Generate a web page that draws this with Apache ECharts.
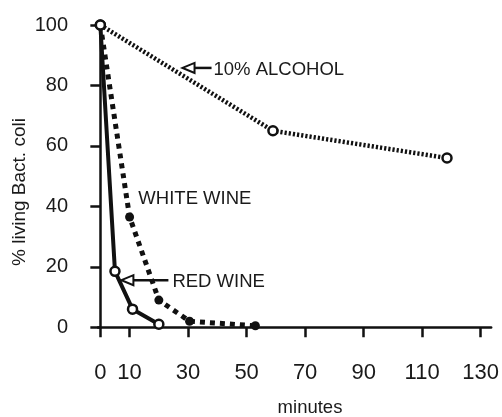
<!DOCTYPE html>
<html>
<head>
<meta charset="utf-8">
<script src="https://cdn.jsdelivr.net/npm/echarts@6/dist/echarts.min.js"></script>
<style>html,body{margin:0;padding:0;background:#fff;}#c{width:502px;height:417px;}</style>
</head>
<body>
<div id="c"></div>
<script>
// Data (minutes, % living Bact. coli)
var alcohol = [[0, 100], [59, 65], [118.5, 56]];
var whiteWine = [[0, 100], [10, 36.5], [20, 9], [30.5, 2], [53, 0.5]];
var redWine = [[0, 100], [5, 18.5], [11, 6], [20, 1]];
var xTicks = [0, 10, 30, 50, 70, 90, 110, 130];
var yTicks = [0, 20, 40, 60, 80, 100];
var labels = { alcohol: '10% ALCOHOL', white: 'WHITE WINE', red: 'RED WINE' };
var xTitle = 'minutes';
var yTitle = '% living Bact. coli';

var FONT = "'Liberation Sans', Arial, sans-serif";
var chart = echarts.init(document.getElementById('c'), null, { renderer: 'canvas' });

var openCircle = { color: '#fff', borderColor: '#111', borderWidth: 2.5 };

chart.setOption({
  animation: false,
  backgroundColor: '#fff',
  grid: { left: 98, right: 8, top: 25, bottom: 89.7 },
  xAxis: {
    type: 'value', min: -0.8, max: 133.6, offset: 13,
    splitLine: { show: false },
    axisLine: { lineStyle: { color: '#111', width: 2.5 } },
    axisTick: { customValues: xTicks, length: 10, lineStyle: { color: '#111', width: 2.5 } },
    axisLabel: { customValues: xTicks, color: '#1a1a1a', fontFamily: FONT, fontSize: 22, margin: 22 }
  },
  yAxis: {
    type: 'value', min: 0, max: 100, interval: 20, offset: 12,
    splitLine: { show: false },
    axisLine: { show: true, lineStyle: { color: '#111', width: 2.5 } },
    axisTick: { show: true, length: 10, lineStyle: { color: '#111', width: 2.5 } },
    axisLabel: { color: '#1a1a1a', fontFamily: FONT, fontSize: 20, margin: 18 }
  },
  series: [
    {
      name: labels.white, type: 'line', z: 2,
      data: whiteWine.map(function (d, i) { return i === 0 ? { value: d, symbol: 'none' } : d; }),
      symbol: 'circle', symbolSize: 9, showAllSymbol: true,
      lineStyle: { color: '#111', width: 5, type: [5, 5] },
      itemStyle: { color: '#111' }
    },
    {
      name: labels.red, type: 'line', z: 3,
      data: redWine, symbol: 'circle', symbolSize: 9,
      lineStyle: { color: '#111', width: 4 },
      itemStyle: openCircle
    },
    {
      name: labels.alcohol, type: 'line', z: 4,
      data: alcohol, symbol: 'circle', symbolSize: 9,
      lineStyle: { color: '#111', width: 4.5, type: [2.2, 2] },
      itemStyle: openCircle
    }
  ]
});

function px(pt) { return chart.convertToPixel({ gridIndex: 0 }, pt); }
function arrow(tip, tailX) {
  var x = tip[0], y = tip[1];
  return [
    { type: 'line', shape: { x1: x + 11, y1: y, x2: tailX, y2: y }, style: { stroke: '#111', lineWidth: 2.5 }, z: 10 },
    { type: 'polygon', shape: { points: [[x, y], [x + 12, y - 5], [x + 12, y + 5]] }, style: { fill: '#fff', stroke: '#111', lineWidth: 2 }, z: 11 }
  ];
}
var aTip = px([28.1, 85.8]);
var rTip = px([7.2, 15.6]);
var els = [];
els = els.concat(arrow(aTip, aTip[0] + 29));
els = els.concat(arrow(rTip, rTip[0] + 47));
var textStyle = function (t) { return { text: t, fill: '#1a1a1a', font: '18.5px ' + FONT, textVerticalAlign: 'middle' }; };
els.push({ type: 'text', x: aTip[0] + 31, y: aTip[1] + 2, style: textStyle(labels.alcohol), z: 12 });
var wPos = px([13, 42.5]);
els.push({ type: 'text', x: wPos[0], y: wPos[1] + 0.5, style: textStyle(labels.white), z: 12 });
els.push({ type: 'text', x: rTip[0] + 51, y: rTip[1] + 1.5, style: textStyle(labels.red), z: 12 });
els.push({ type: 'text', x: 310, y: 408, style: { text: xTitle, fill: '#1a1a1a', font: '18.5px ' + FONT, textAlign: 'center', textVerticalAlign: 'middle' } });
els.push({ type: 'text', x: 20, y: 192, rotation: Math.PI / 2, style: { text: yTitle, fill: '#1a1a1a', font: '19px ' + FONT, textAlign: 'center', textVerticalAlign: 'middle' } });
chart.setOption({ graphic: { elements: els } });
</script>
</body>
</html>
